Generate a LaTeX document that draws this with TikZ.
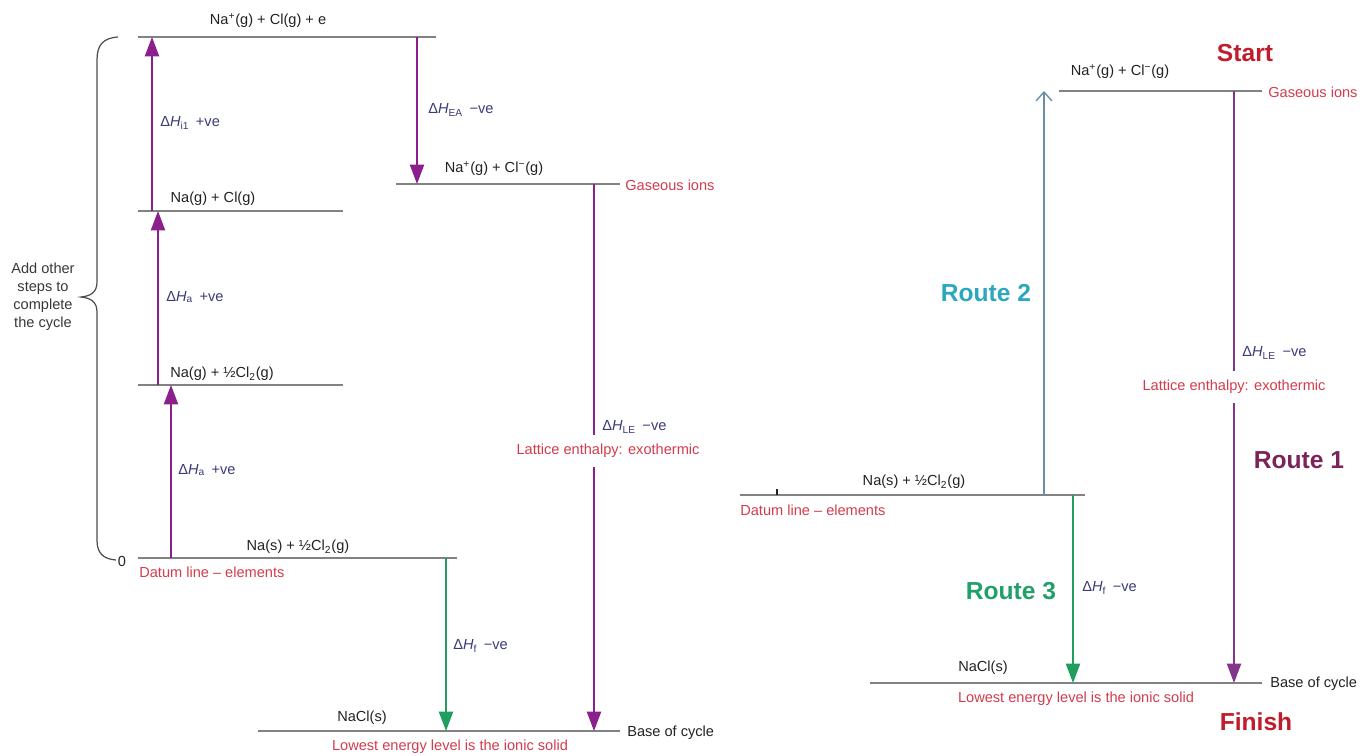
\documentclass[tikz,border=0pt]{standalone}
\usepackage{fontspec}
\setmainfont{Liberation Sans}
\usetikzlibrary{arrows.meta}
\definecolor{lvlgray}{HTML}{828282}
\definecolor{purp}{HTML}{8B1F8B}
\definecolor{purp2}{HTML}{83358A}
\definecolor{grn}{HTML}{1F9E5F}
\definecolor{redlab}{HTML}{D23C4C}
\definecolor{startred}{HTML}{C01C2C}
\definecolor{dhcol}{HTML}{3A3A78}
\definecolor{txtc}{HTML}{222222}
\definecolor{r2arrow}{HTML}{6C8FA8}
\definecolor{r2text}{HTML}{2BA8BE}
\definecolor{r1text}{HTML}{7A2458}
\definecolor{r3text}{HTML}{22A06A}
\tikzset{
  level/.style={draw=lvlgray, line width=1.4pt},
  parrow/.style={draw=purp, line width=1.1pt, -{Triangle[width=8pt,length=11pt]}},
  garrow/.style={draw=grn, line width=1.1pt, -{Triangle[width=8pt,length=11pt]}},
  barrow/.style={draw=r2arrow, line width=0.8pt, -{Straight Barb[width=9pt,length=5pt]}},
  txt/.style={font=\fontsize{8.3}{10.2}\selectfont, text=txtc, inner sep=0pt},
  redt/.style={txt, text=redlab},
  dht/.style={txt, text=dhcol},
  gap/.style={redt, fill=white, inner xsep=1pt, inner ysep=5pt},
  bigr/.style={font=\bfseries\fontsize{14}{16}\selectfont, inner sep=0pt}
}
\begin{document}
\begin{tikzpicture}[x=0.02cm,y=-0.02cm]
\useasboundingbox (0,0) rectangle (1365,755);

% ================= LEFT CYCLE =================
% levels
\coordinate (t1) at (138,37);  \coordinate (t2) at (436,37);
\coordinate (g1) at (138,211); \coordinate (g2) at (343,211);
\coordinate (h1) at (138,385); \coordinate (h2) at (343,385);
\coordinate (d1) at (138,558); \coordinate (d2) at (457,558);
\coordinate (i1) at (396,184); \coordinate (i2) at (620,184);
\coordinate (b1) at (258,731); \coordinate (b2) at (620,731);
\draw[level] (t1) -- (t2);
\draw[level] (g1) -- (g2);
\draw[level] (h1) -- (h2);
\draw[level] (d1) -- (d2);
\draw[level] (i1) -- (i2);
\draw[level] (b1) -- (b2);

% level labels
\node[txt] (ltop) at (268,21) {Na\textsuperscript{+}(g) + Cl(g) + e};
\node[txt] (lg) at (213,199) {Na(g) + Cl(g)};
\node[txt] (lh) at (222,374) {Na(g) + ½Cl\textsubscript{2}(g)};
\node[txt] (ld) at (298,547) {Na(s) + ½Cl\textsubscript{2}(g)};
\node[txt] (zero) at (122,561) {0};
\node[redt, anchor=west] (ldat) at (139,572) {Datum line – elements};
\node[txt] (lions) at (494,169) {Na\textsuperscript{+}(g) + Cl\textsuperscript{−}(g)};
\node[redt, anchor=west] (lgas) at (625,185) {Gaseous ions};
\node[txt] (lnacl) at (362,718) {NaCl(s)};
\node[txt, anchor=west] (lbase) at (627,733) {Base of cycle};
\node[redt] (llow) at (450,747) {Lowest energy level is the ionic solid};

% arrows
\coordinate (a1s) at (152,211); \coordinate (a1e) at (152,37);
\coordinate (a2s) at (158,385); \coordinate (a2e) at (158,211);
\coordinate (a3s) at (171,558); \coordinate (a3e) at (171,385);
\coordinate (a4s) at (417,37);  \coordinate (a4e) at (417,184);
\coordinate (a5s) at (594,184); \coordinate (a5e) at (594,731);
\coordinate (a6s) at (446,558); \coordinate (a6e) at (446,731);
\draw[parrow] (a1s) -- (a1e);
\draw[parrow] (a2s) -- (a2e);
\draw[parrow] (a3s) -- (a3e);
\draw[parrow] (a4s) -- (a4e);
\draw[parrow] (a5s) -- (a5e);
\draw[garrow] (a6s) -- (a6e);

% arrow labels
\node[dht, anchor=west] (dh1) at (160,123) {Δ\textit{H}\textsubscript{i1} \,+ve};
\node[dht, anchor=west] (dh2) at (166,297) {Δ\textit{H}\textsubscript{a} \,+ve};
\node[dht, anchor=west] (dh3) at (178,470) {Δ\textit{H}\textsubscript{a} \,+ve};
\node[dht, anchor=west] (dh4) at (428,110) {Δ\textit{H}\textsubscript{EA} \,−ve};
\node[dht, anchor=west] (dh5) at (602,427) {Δ\textit{H}\textsubscript{LE} \,−ve};
\node[gap] (lat) at (608,451) {Lattice enthalpy: exothermic};
\node[dht, anchor=west] (dh6) at (453,646) {Δ\textit{H}\textsubscript{f} \,−ve};

% brace
\coordinate (br1) at (118,37);
\coordinate (br2) at (116,560);
\draw[draw=txtc!80, line width=0.7pt]
  (br1) .. controls (103,38) and (97,45) .. (97,60)
  -- (97,282) .. controls (97,292) and (91,296) .. (81,297)
  .. controls (91,298) and (97,302) .. (97,312)
  -- (97,540) .. controls (97,553) and (103,559) .. (br2);
\node[txt, align=center, text=txtc!90] (addo) at (43,297)
  {Add other\\steps to\\complete\\the cycle};

% ================= RIGHT CYCLE =================
\coordinate (rt1) at (1059,91);  \coordinate (rt2) at (1262,91);
\coordinate (rd1) at (740,495);  \coordinate (rd2) at (1085,495);
\coordinate (rb1) at (870,683);  \coordinate (rb2) at (1262,683);
\draw[level] (rt1) -- (rt2);
\draw[level] (rd1) -- (rd2);
\draw[level] (rb1) -- (rb2);
\coordinate (tick1) at (777,495); \coordinate (tick2) at (777,489);
\draw[draw=txtc, line width=1pt] (tick1) -- (tick2);

\node[bigr, text=startred] (start) at (1245,53) {Start};
\node[txt] (rions) at (1120,72) {Na\textsuperscript{+}(g) + Cl\textsuperscript{−}(g)};
\node[redt, anchor=west] (rgas) at (1268,92) {Gaseous ions};
\node[txt] (rd) at (914,482) {Na(s) + ½Cl\textsubscript{2}(g)};
\node[redt, anchor=west] (rdat) at (740,510) {Datum line – elements};
\node[txt] (rnacl) at (983,668) {NaCl(s)};
\node[txt, anchor=west] (rbase) at (1270,684) {Base of cycle};
\node[redt] (rlow) at (1076,699) {Lowest energy level is the ionic solid};
\node[bigr, text=startred] (finish) at (1256,722) {Finish};

\coordinate (r2s) at (1044,495); \coordinate (r2e) at (1044,91);
\coordinate (r1s) at (1234,91);  \coordinate (r1e) at (1234,683);
\coordinate (r3s) at (1073,495); \coordinate (r3e) at (1073,683);
\draw[barrow] (r2s) -- (r2e);
\draw[parrow, draw=purp2] (r1s) -- (r1e);
\draw[garrow] (r3s) -- (r3e);

\node[bigr, text=r2text] (route2) at (986,293) {Route 2};
\node[bigr, text=r1text] (route1) at (1299,460) {Route 1};
\node[bigr, text=r3text] (route3) at (1011,591) {Route 3};
\node[dht, anchor=west] (rdh1) at (1242,353) {Δ\textit{H}\textsubscript{LE} \,−ve};
\node[gap] (rlat) at (1234,387) {Lattice enthalpy: exothermic};
\node[dht, anchor=west] (rdh3) at (1082,588) {Δ\textit{H}\textsubscript{f} \,−ve};
\end{tikzpicture}
\end{document}
